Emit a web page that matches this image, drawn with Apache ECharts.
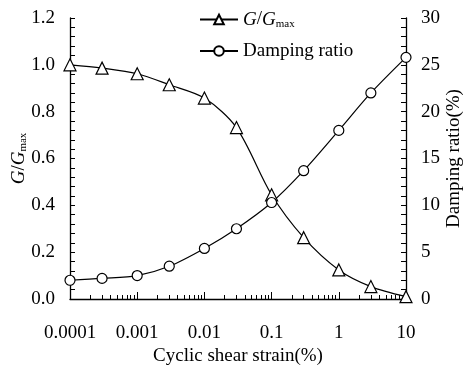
<!DOCTYPE html>
<html>
<head>
<meta charset="utf-8">
<script src="https://cdn.jsdelivr.net/npm/echarts@6/dist/echarts.min.js"></script>
<style>
  html, body { margin: 0; padding: 0; background: #fff; }
  #chart { width: 470px; height: 377px; }
</style>
</head>
<body>
<div id="chart"></div>
<script>
// shear strain (%) at each test point
const strain = [0.0001, 0.0003, 0.001, 0.003, 0.01, 0.03, 0.1, 0.3, 1, 3, 10];
// normalised shear modulus G/Gmax
const gRatio = [1.0, 0.986, 0.962, 0.915, 0.858, 0.732, 0.445, 0.262, 0.124, 0.053, 0.01];
// damping ratio (%)
const damping = [2.0, 2.2, 2.5, 3.5, 5.4, 7.5, 10.3, 13.7, 18.0, 22.0, 25.8];

// minor log ticks 2..9 in each decade
const minorTicks = [];
[0.0001, 0.001, 0.01, 0.1, 1].forEach(d => {
  for (let k = 2; k <= 9; k++) minorTicks.push(+(d * k).toPrecision(2));
});

const font = 'Liberation Serif';
const black = '#000';
const fs = 19;
const rich = {
  i: { fontFamily: font, fontStyle: 'italic', fontSize: fs, color: black },
  s: { fontFamily: font, fontSize: 11, color: black, padding: [9, 0, 0, 0] }
};

const chart = echarts.init(document.getElementById('chart'));
chart.setOption({
  animation: false,
  grid: { left: 70, right: 64, top: 18, bottom: 78, outerBoundsMode: 'none' },
  legend: {
    orient: 'vertical', left: 199, top: 10, padding: 0,
    itemWidth: 38, itemHeight: 12, itemGap: 12,
    textStyle: { fontFamily: font, fontSize: fs, color: black, rich: rich },
    formatter: name => name === 'G/Gmax' ? '{i|G}/{i|G}{s|max}' : name
  },
  xAxis: [{
    type: 'log', logBase: 10, min: 0.0001, max: 10,
    name: 'Cyclic shear strain(%)', nameLocation: 'middle', nameGap: 48, nameMoveOverlap: false,
    nameTextStyle: { fontFamily: font, fontSize: fs, color: black },
    axisLine: { lineStyle: { color: black, width: 1.3 } },
    axisTick: { show: true, inside: true, length: 7, lineStyle: { color: black } },
    axisLabel: {
      margin: 25, fontFamily: font, fontSize: fs, color: black,
      formatter: v => String(+(+v).toPrecision(1))
    },
    splitLine: { show: false }
  }, {
    // minor ticks only
    type: 'log', logBase: 10, min: 0.0001, max: 10, gridIndex: 0, position: 'bottom',
    axisLine: { show: false },
    axisTick: { show: true, inside: true, length: 4, lineStyle: { color: black }, customValues: minorTicks },
    axisLabel: { show: false },
    splitLine: { show: false }
  }],
  yAxis: [{
    type: 'value', min: 0, max: 1.2, interval: 0.2,
    name: '{i|G}/{i|G}{s|max}', nameLocation: 'middle', nameGap: 41, nameRotate: 90, nameMoveOverlap: false,
    nameTextStyle: { fontFamily: font, fontSize: fs, color: black, rich: rich },
    axisLine: { show: true, lineStyle: { color: black, width: 1.3 } },
    axisTick: { show: true, inside: true, length: 5, lineStyle: { color: black } },
    minorTick: { show: true, splitNumber: 5, length: 5, lineStyle: { color: black } },
    axisLabel: { margin: 15, fontFamily: font, fontSize: fs, color: black, formatter: v => v.toFixed(1) },
    splitLine: { show: false }
  }, {
    type: 'value', min: 0, max: 30, interval: 5, position: 'right',
    name: 'Damping ratio(%)', nameLocation: 'middle', nameGap: 39, nameRotate: 90, nameMoveOverlap: false,
    nameTextStyle: { fontFamily: font, fontSize: fs, color: black },
    axisLine: { show: true, lineStyle: { color: black, width: 1.3 } },
    axisTick: { show: true, inside: true, length: 5, lineStyle: { color: black } },
    minorTick: { show: true, splitNumber: 5, length: 5, lineStyle: { color: black } },
    axisLabel: { margin: 15, fontFamily: font, fontSize: fs, color: black },
    splitLine: { show: false }
  }],
  series: [{
    name: 'G/Gmax', type: 'line', xAxisIndex: 0, yAxisIndex: 0,
    data: strain.map((x, i) => [x, gRatio[i]]),
    smooth: 0.3, clip: false,
    symbol: 'triangle', symbolSize: 12,
    lineStyle: { color: black, width: 1.2 },
    itemStyle: { color: '#fff', borderColor: black, borderWidth: 1.2 }
  }, {
    name: 'Damping ratio', type: 'line', xAxisIndex: 0, yAxisIndex: 1,
    data: strain.map((x, i) => [x, damping[i]]),
    smooth: 0.3, clip: false,
    symbol: 'circle', symbolSize: 10,
    lineStyle: { color: black, width: 1.2 },
    itemStyle: { color: '#fff', borderColor: black, borderWidth: 1.2 }
  }]
});
</script>
</body>
</html>
